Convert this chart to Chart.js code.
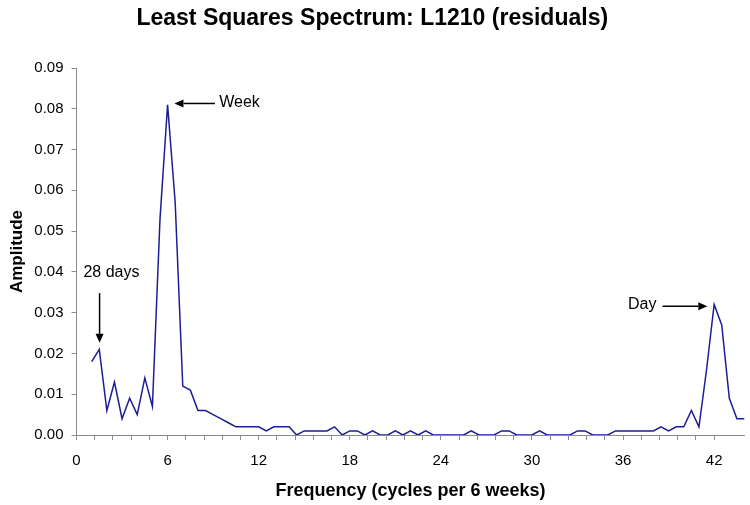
<!DOCTYPE html>
<html>
<head>
<meta charset="utf-8">
<script src="https://cdn.jsdelivr.net/npm/chart.js@4/dist/chart.umd.min.js"></script>
<style>
  html, body { margin: 0; padding: 0; background: #ffffff; }
  #wrap { width: 750px; height: 505px; }
</style>
</head>
<body>
<div id="wrap"><canvas id="c" width="750" height="505"></canvas></div>
<script>
// ---- data ----
const chartTitle = 'Least Squares Spectrum: L1210 (residuals)';
const xAxisTitle = 'Frequency (cycles per 6 weeks)';
const yAxisTitle = 'Amplitude';

const frequencies = [
  1, 1.5, 2, 2.5, 3, 3.5, 4, 4.5, 5, 5.5,
  6, 6.5, 7, 7.5, 8, 8.5, 9, 9.5, 10, 10.5,
  11, 11.5, 12, 12.5, 13, 13.5, 14, 14.5, 15, 15.5,
  16, 16.5, 17, 17.5, 18, 18.5, 19, 19.5, 20, 20.5,
  21, 21.5, 22, 22.5, 23, 23.5, 24, 24.5, 25, 25.5,
  26, 26.5, 27, 27.5, 28, 28.5, 29, 29.5, 30, 30.5,
  31, 31.5, 32, 32.5, 33, 33.5, 34, 34.5, 35, 35.5,
  36, 36.5, 37, 37.5, 38, 38.5, 39, 39.5, 40, 40.5,
  41, 41.5, 42, 42.5, 43, 43.5, 44
];
const amplitudes = [
  0.018, 0.021, 0.006, 0.013, 0.004, 0.009, 0.005, 0.014, 0.007, 0.053,
  0.081, 0.057, 0.012, 0.011, 0.006, 0.006, 0.005, 0.004, 0.003, 0.002,
  0.002, 0.002, 0.002, 0.001, 0.002, 0.002, 0.002, 0.000, 0.001, 0.001,
  0.001, 0.001, 0.002, 0.000, 0.001, 0.001, 0.000, 0.001, 0.000, 0.000,
  0.001, 0.000, 0.001, 0.000, 0.001, 0.000, 0.000, 0.000, 0.000, 0.000,
  0.001, 0.000, 0.000, 0.000, 0.001, 0.001, 0.000, 0.000, 0.000, 0.001,
  0.000, 0.000, 0.000, 0.000, 0.001, 0.001, 0.000, 0.000, 0.000, 0.001,
  0.001, 0.001, 0.001, 0.001, 0.001, 0.002, 0.001, 0.002, 0.002, 0.006,
  0.002, 0.016, 0.032, 0.027, 0.009, 0.004, 0.004
];

const xTickLabels = [0, 6, 12, 18, 24, 30, 36, 42];
const yTickLabels = ['0.00','0.01','0.02','0.03','0.04','0.05','0.06','0.07','0.08','0.09'];

// annotations: text, arrow tail -> arrow tip in data units
const annotationTexts = ['Week', '28 days', 'Day'];
const annotationArrows = [
  { from: [9.12, 0.0813], to: [6.45, 0.0813] },
  { from: [1.52, 0.0348], to: [1.52, 0.0226] },
  { from: [38.6, 0.0316], to: [41.55, 0.0316] }
];
const annotationTextAnchors = [
  { at: [9.4, 0.0815], align: 'left' },
  { at: [2.3, 0.0398], align: 'center' },
  { at: [38.2, 0.0321], align: 'right' }
];

// ---- chart ----
const FONT = '"Liberation Sans", Arial, Helvetica, sans-serif';
const points = frequencies.map((f, i) => ({ x: f, y: amplitudes[i] }));

const annotationPlugin = {
  id: 'arrowNotes',
  afterDatasetsDraw(chart) {
    const { ctx, scales: { x, y } } = chart;
    ctx.save();
    ctx.strokeStyle = '#000';
    ctx.fillStyle = '#000';
    ctx.lineWidth = 1.5;
    annotationArrows.forEach(a => {
      const x1 = x.getPixelForValue(a.from[0]), y1 = y.getPixelForValue(a.from[1]);
      const x2 = x.getPixelForValue(a.to[0]), y2 = y.getPixelForValue(a.to[1]);
      const ang = Math.atan2(y2 - y1, x2 - x1);
      const headLen = 9, headW = 4;
      const bx = x2 - headLen * Math.cos(ang), by = y2 - headLen * Math.sin(ang);
      ctx.beginPath();
      ctx.moveTo(x1, y1);
      ctx.lineTo(bx, by);
      ctx.stroke();
      ctx.beginPath();
      ctx.moveTo(x2, y2);
      ctx.lineTo(bx + headW * Math.sin(ang), by - headW * Math.cos(ang));
      ctx.lineTo(bx - headW * Math.sin(ang), by + headW * Math.cos(ang));
      ctx.closePath();
      ctx.fill();
    });
    ctx.font = '16px ' + FONT;
    ctx.textBaseline = 'middle';
    annotationTexts.forEach((t, i) => {
      const an = annotationTextAnchors[i];
      ctx.textAlign = an.align;
      ctx.fillText(t, x.getPixelForValue(an.at[0]), y.getPixelForValue(an.at[1]));
    });
    ctx.restore();
  }
};

new Chart(document.getElementById('c'), {
  type: 'line',
  data: {
    datasets: [{
      data: points,
      borderColor: '#1c1c96',
      borderWidth: 1.5,
      pointRadius: 0,
      tension: 0,
      fill: false
    }]
  },
  options: {
    responsive: false,
    animation: false,
    devicePixelRatio: 1,
    layout: { padding: { left: 0, right: 5.5, top: 0, bottom: 0 } },
    plugins: {
      legend: { display: false },
      tooltip: { enabled: false },
      title: {
        display: true,
        text: chartTitle,
        color: '#000',
        font: { family: FONT, size: 23, weight: 'bold', lineHeight: 1.2 },
        padding: { top: 5, bottom: 35.4 }
      }
    },
    scales: {
      x: {
        type: 'linear',
        min: 0,
        max: 44,
        afterFit(scale) { scale.height = 70; },
        afterBuildTicks(scale) {
          scale.ticks = scale.ticks.filter(t => t.value < 43.5);
        },
        ticks: {
          stepSize: 1.2,
          autoSkip: false,
          maxRotation: 0,
          padding: 12,
          color: '#000',
          font: { family: FONT, size: 15 },
          callback(v) {
            const k = Math.round(v / 6);
            if (Math.abs(v - k * 6) < 1e-6 && xTickLabels.includes(k * 6)) return String(k * 6);
            return '';
          }
        },
        grid: { drawOnChartArea: false, drawTicks: true, tickLength: 5, color: '#8c8c8c', lineWidth: 1 },
        border: { display: true, color: '#8c8c8c', width: 1 },
        title: {
          display: true,
          text: xAxisTitle,
          color: '#000',
          font: { family: FONT, size: 18, weight: 'bold', lineHeight: 1.2 },
          padding: { top: 0, bottom: 3 }
        }
      },
      y: {
        type: 'linear',
        min: 0,
        max: 0.09,
        afterFit(scale) { scale.width = 76.5; },
        ticks: {
          stepSize: 0.01,
          padding: 8,
          color: '#000',
          font: { family: FONT, size: 15 },
          callback(v) {
            const i = Math.round(v * 100);
            return yTickLabels[i] !== undefined ? yTickLabels[i] : '';
          }
        },
        grid: { drawOnChartArea: false, drawTicks: true, tickLength: 5, color: '#8c8c8c', lineWidth: 1 },
        border: { display: true, color: '#8c8c8c', width: 1 },
        title: {
          display: true,
          text: yAxisTitle,
          color: '#000',
          font: { family: FONT, size: 17, weight: 'bold', lineHeight: 1.2 },
          padding: { top: 7, bottom: 0 }
        }
      }
    }
  },
  plugins: [annotationPlugin]
});
</script>
</body>
</html>
